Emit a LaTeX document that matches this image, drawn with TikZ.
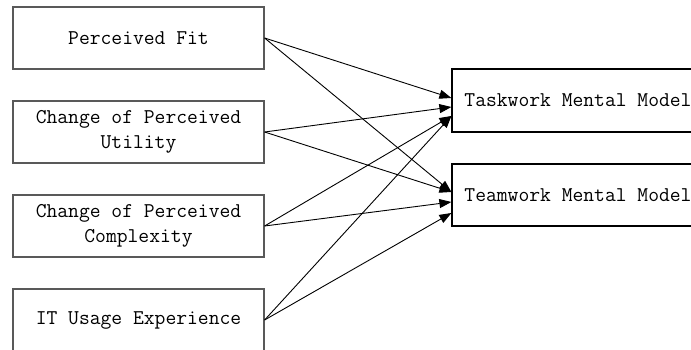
\documentclass[tikz,border=0pt]{standalone}
\usepackage{fontspec}
\usetikzlibrary{arrows.meta}
\begin{document}
\begin{tikzpicture}[x=1pt,y=-1pt,
  srcbox/.style={draw=black!65, line width=1.2pt, minimum width=251pt, minimum height=62pt,
    inner sep=0pt, align=center, font=\ttfamily\fontsize{21}{25}\selectfont},
  tgtbox/.style={draw=black, line width=1.2pt, minimum width=252pt, minimum height=62pt,
    inner sep=0pt, align=center, font=\ttfamily\fontsize{21}{25}\selectfont},
  link/.style={draw=black, line width=0.9pt, -{Triangle[length=12pt,width=9pt]}}]
\useasboundingbox (0,0) rectangle (691,350);
\clip (0,0) rectangle (691,350);
\node[srcbox] (pf) at (138.5,38) {Perceived Fit};
\node[srcbox] (ut) at (138.5,132) {Change of Perceived\\Utility};
\node[srcbox] (cx) at (138.5,226) {Change of Perceived\\Complexity};
\node[srcbox] (it) at (138.5,320) {IT Usage Experience};
\node[tgtbox, minimum height=63pt] (task) at (578,100.5) {Taskwork Mental Model};
\node[tgtbox] (team) at (578,195) {Teamwork Mental Model};
\draw[link] (pf.east) -- ([yshift=2.5pt]task.west);
\draw[link] (pf.east) -- ([yshift=3pt]team.west);
\draw[link] (ut.east) -- ([yshift=-6.5pt]task.west);
\draw[link] (ut.east) -- ([yshift=3pt]team.west);
\draw[link] (cx.east) -- ([yshift=-15.5pt]task.west);
\draw[link] (cx.east) -- ([yshift=-7pt]team.west);
\draw[link] (it.east) -- ([yshift=-15.5pt]task.west);
\draw[link] (it.east) -- ([yshift=-18pt]team.west);
\end{tikzpicture}
\end{document}
